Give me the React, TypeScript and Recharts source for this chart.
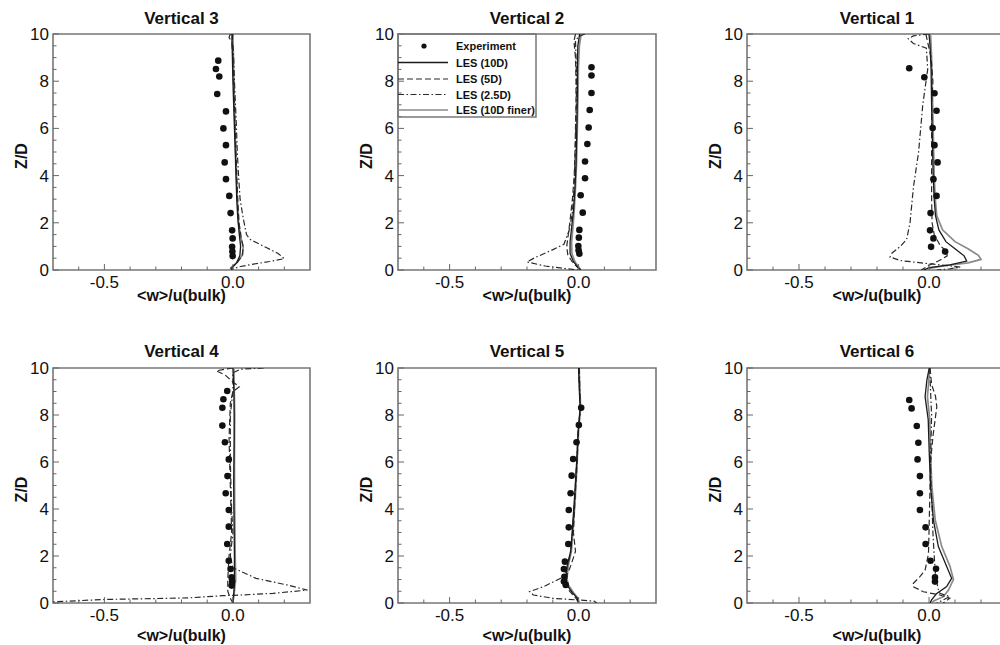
import React from 'react';
import { ComposedChart, Line, Scatter, XAxis, YAxis, ReferenceArea } from 'recharts';

type Pair = [number, number];

// ---------- tick values / labels ----------
const X_TICKS = [-0.6, -0.5, -0.4, -0.3, -0.2, -0.1, 0, 0.1, 0.2];
const X_MAJOR = [-0.5, 0];
const X_MAJOR_LABELS = ['-0.5', '0.0'];
const Y_TICKS = [0, 0.5, 1, 1.5, 2, 2.5, 3, 3.5, 4, 4.5, 5, 5.5, 6, 6.5, 7, 7.5, 8, 8.5, 9, 9.5, 10];
const Y_MAJOR = [0, 2, 4, 6, 8, 10];
const Y_MAJOR_LABELS = ['0', '2', '4', '6', '8', '10'];
const SERIES_NAMES = ['Experiment', 'LES (10D)', 'LES (5D)', 'LES (2.5D)', 'LES (10D finer)'];

// ---------- Vertical 3 ----------
const v3Exp: Pair[] = [[-0.057, 8.87], [-0.066, 8.52], [-0.053, 8.2], [-0.061, 7.46], [-0.027, 6.72], [-0.037, 6.0], [-0.027, 5.29], [-0.032, 4.56], [-0.027, 3.85], [-0.014, 3.14], [-0.009, 2.41], [-0.003, 1.68], [-0.001, 1.34], [-0.003, 0.98], [-0.002, 0.78], [-0.001, 0.59]];
const v3Les10: Pair[] = [[-0.004, 10], [-0.002, 9], [0.0, 8], [0.003, 7], [0.006, 6], [0.009, 5], [0.012, 4], [0.015, 3], [0.019, 2.2], [0.025, 1.5], [0.03, 1.0], [0.027, 0.6], [0.014, 0.3], [0.0, 0.13], [-0.005, 0]];
const v3Les5: Pair[] = [[0.0, 10], [-0.004, 9.6], [0.0, 9], [0.003, 8], [0.006, 7], [0.009, 6], [0.012, 5], [0.015, 4], [0.019, 3], [0.024, 2], [0.032, 1.4], [0.04, 0.95], [0.036, 0.6], [0.016, 0.3], [-0.005, 0.1], [-0.012, 0]];
const v3Les25: Pair[] = [[-0.01, 10], [-0.015, 9.85], [0.0, 9.6], [0.003, 9], [0.006, 8], [0.01, 7], [0.014, 6], [0.017, 5], [0.022, 4], [0.028, 3], [0.04, 2.2], [0.053, 1.5], [0.066, 1.3], [0.13, 0.95], [0.176, 0.7], [0.2, 0.48], [0.143, 0.36], [0.08, 0.25], [0.03, 0.15], [0.0, 0.05], [-0.005, 0]];
const v3Les10f: Pair[] = [[0.0, 10], [0.002, 9], [0.004, 8], [0.006, 7], [0.008, 6], [0.011, 5], [0.014, 4], [0.017, 3], [0.022, 2], [0.03, 1.4], [0.04, 1.0], [0.038, 0.65], [0.015, 0.3], [-0.008, 0.1], [-0.01, 0]];

// ---------- Vertical 2 ----------
const v2Exp: Pair[] = [[0.05, 8.59], [0.05, 8.24], [0.05, 7.5], [0.043, 6.78], [0.039, 6.04], [0.034, 5.34], [0.025, 4.6], [0.025, 3.89], [0.008, 3.17], [0.016, 2.43], [0.003, 1.7], [0.001, 1.37], [-0.001, 1.02], [0.0, 0.84], [0.003, 0.69]];
const v2Les10: Pair[] = [[0.004, 10], [-0.003, 9.5], [-0.005, 8.5], [-0.005, 7.5], [-0.006, 6.5], [-0.008, 5.5], [-0.01, 4.5], [-0.014, 3.5], [-0.02, 2.5], [-0.027, 1.8], [-0.033, 1.2], [-0.033, 0.7], [-0.02, 0.35], [-0.003, 0.12], [0.008, 0]];
const v2Les5: Pair[] = [[-0.012, 10], [-0.018, 9.7], [-0.012, 9], [-0.01, 8], [-0.01, 7], [-0.012, 6], [-0.014, 5], [-0.017, 4], [-0.024, 3], [-0.032, 2.2], [-0.04, 1.5], [-0.046, 1.0], [-0.042, 0.65], [-0.025, 0.35], [-0.005, 0.12], [0.005, 0]];
const v2Les25: Pair[] = [[0.025, 10], [0.0, 9.9], [-0.012, 9.7], [-0.01, 9], [-0.008, 8], [-0.009, 7], [-0.011, 6], [-0.013, 5], [-0.016, 4], [-0.02, 3], [-0.025, 2.36], [-0.037, 1.66], [-0.057, 1.09], [-0.11, 0.81], [-0.17, 0.52], [-0.2, 0.34], [-0.13, 0.17], [-0.057, 0.07], [0.0, 0]];
const v2Les10f: Pair[] = [[0.01, 10], [0.003, 9.5], [-0.001, 8.5], [-0.002, 7.5], [-0.004, 6.5], [-0.006, 5.5], [-0.008, 4.5], [-0.012, 3.5], [-0.017, 2.5], [-0.022, 1.8], [-0.027, 1.2], [-0.026, 0.7], [-0.014, 0.35], [0.0, 0.12], [0.01, 0]];

// ---------- Vertical 1 ----------
const v1Exp: Pair[] = [[-0.076, 8.55], [-0.018, 8.17], [0.021, 7.49], [0.029, 6.75], [0.014, 6.02], [0.021, 5.29], [0.033, 4.56], [0.017, 3.85], [0.029, 3.14], [0.006, 2.41], [0.004, 1.68], [0.017, 1.34], [0.008, 0.98], [0.062, 0.78]];
const v1Les10: Pair[] = [[0.0, 10], [0.004, 9.5], [0.008, 8.5], [0.01, 7], [0.012, 6], [0.014, 5], [0.016, 4], [0.02, 3], [0.025, 2.3], [0.038, 1.7], [0.065, 1.2], [0.1, 0.9], [0.135, 0.6], [0.145, 0.38], [0.08, 0.22], [0.0, 0.1], [-0.02, 0]];
const v1Les5: Pair[] = [[-0.012, 10], [-0.006, 9.7], [0.008, 9], [0.015, 8], [0.01, 7], [0.01, 6], [0.01, 5], [0.01, 4], [0.01, 3], [0.012, 2], [0.02, 1.5], [0.045, 1.0], [0.068, 0.8], [0.07, 0.6], [0.04, 0.4], [0.0, 0.2], [-0.03, 0]];
const v1Les25: Pair[] = [[0.0, 10], [-0.06, 9.92], [-0.08, 9.8], [-0.06, 9.6], [-0.01, 9.4], [-0.005, 8.5], [-0.024, 7], [-0.04, 5], [-0.06, 3.5], [-0.073, 2], [-0.086, 1.3], [-0.11, 1.0], [-0.144, 0.7], [-0.15, 0.55], [-0.11, 0.4], [-0.03, 0.3], [0.06, 0.2], [0.12, 0.12], [0.08, 0.05], [0.03, 0]];
const v1Les10f: Pair[] = [[0.006, 10], [0.01, 9], [0.012, 8], [0.014, 7], [0.016, 6], [0.018, 5], [0.02, 4], [0.024, 3], [0.03, 2.3], [0.052, 1.7], [0.1, 1.2], [0.15, 0.9], [0.19, 0.62], [0.2, 0.45], [0.15, 0.3], [0.06, 0.18], [0.005, 0.08], [0.0, 0]];

// ---------- Vertical 4 ----------
const v4Exp: Pair[] = [[-0.022, 9.02], [-0.037, 8.67], [-0.041, 8.31], [-0.041, 7.55], [-0.031, 6.84], [-0.016, 6.11], [-0.021, 5.4], [-0.028, 4.67], [-0.016, 3.96], [-0.016, 3.25], [-0.022, 2.51], [-0.016, 1.8], [-0.009, 1.45], [-0.005, 1.09], [-0.003, 0.91], [-0.005, 0.74]];
const v4Les10: Pair[] = [[0.0, 10], [0.004, 9], [0.005, 8], [0.005, 7], [0.004, 6], [0.003, 5], [0.004, 4], [0.005, 3], [0.006, 2], [0.006, 1], [0.004, 0.5], [0.0, 0]];
const v4Les5: Pair[] = [[0.0, 10], [-0.03, 9.95], [-0.065, 9.88], [-0.03, 9.7], [0.0, 9.4], [0.025, 9.2], [0.0, 9.0], [-0.01, 8.5], [-0.015, 7], [-0.01, 5], [-0.005, 3], [-0.015, 2], [-0.02, 1], [-0.02, 0.5], [-0.01, 0.2], [0.0, 0]];
const v4Les25: Pair[] = [[0.12, 10], [0.03, 9.95], [0.0, 9.8], [0.0, 9], [-0.01, 8], [-0.01, 6], [-0.005, 4], [0.0, 3], [-0.01, 2], [0.0, 1.5], [0.09, 1.05], [0.21, 0.77], [0.29, 0.55], [0.156, 0.41], [0.03, 0.34], [-0.04, 0.31], [-0.17, 0.22], [-0.3, 0.19], [-0.5, 0.15], [-0.7, 0.05]];
const v4Les10f: Pair[] = [[0.004, 10], [0.007, 8], [0.006, 6], [0.007, 4], [0.009, 2], [0.011, 1], [0.006, 0.5], [0.0, 0]];

// ---------- Vertical 5 ----------
const v5Exp: Pair[] = [[0.01, 8.31], [0.001, 7.57], [-0.008, 6.84], [-0.021, 6.13], [-0.027, 5.42], [-0.031, 4.67], [-0.038, 3.96], [-0.038, 3.22], [-0.04, 2.51], [-0.053, 1.76], [-0.057, 1.45], [-0.055, 1.12], [-0.057, 0.91], [-0.05, 0.77]];
const v5Les10: Pair[] = [[0.0, 10], [0.003, 9], [0.006, 8.3], [-0.002, 7.3], [-0.008, 5.9], [-0.016, 4.45], [-0.025, 3.0], [-0.031, 2.2], [-0.044, 1.6], [-0.05, 1.05], [-0.045, 0.77], [-0.025, 0.45], [-0.005, 0.2], [0.0, 0]];
const v5Les5: Pair[] = [[0.0, 10], [0.004, 9], [0.006, 8.3], [-0.001, 7.3], [-0.006, 5.9], [-0.014, 4.45], [-0.02, 3.0], [-0.012, 2.2], [-0.03, 1.6], [-0.048, 1.1], [-0.05, 0.8], [-0.035, 0.5], [-0.01, 0.2], [0.0, 0]];
const v5Les25: Pair[] = [[0.003, 10], [0.005, 9], [0.007, 8.3], [-0.001, 7.3], [-0.008, 5.9], [-0.015, 4.45], [-0.024, 3.0], [-0.03, 2.2], [-0.042, 1.6], [-0.05, 1.33], [-0.07, 1.05], [-0.135, 0.7], [-0.19, 0.48], [-0.175, 0.34], [-0.1, 0.2], [-0.005, 0.13], [0.06, 0.08], [0.07, 0.0]];
const v5Les10f: Pair[] = [[0.002, 10], [0.005, 9], [0.008, 8.3], [0.0, 7.3], [-0.006, 5.9], [-0.013, 4.45], [-0.022, 3.0], [-0.028, 2.2], [-0.04, 1.6], [-0.045, 1.05], [-0.04, 0.77], [-0.02, 0.45], [-0.002, 0.2], [0.002, 0]];

// ---------- Vertical 6 ----------
const v6Exp: Pair[] = [[-0.076, 8.64], [-0.067, 8.28], [-0.047, 7.53], [-0.041, 6.82], [-0.044, 6.11], [-0.035, 5.4], [-0.035, 4.67], [-0.035, 3.96], [-0.013, 3.22], [-0.013, 2.51], [0.006, 1.8], [0.027, 1.46], [0.023, 1.09], [0.023, 0.91]];
const v6Les10: Pair[] = [[0.001, 10], [-0.008, 9.5], [-0.015, 8.78], [-0.003, 7.8], [0.001, 6.37], [0.006, 4.95], [0.017, 3.53], [0.036, 2.4], [0.068, 1.55], [0.087, 1.05], [0.068, 0.7], [0.03, 0.41], [0.01, 0.13], [0.004, 0]];
const v6Les5: Pair[] = [[0.004, 10], [0.01, 9.3], [0.025, 8.8], [0.03, 8.35], [0.015, 7.08], [0.006, 6], [0.004, 5], [0.002, 4], [0.0, 3], [-0.002, 2.1], [-0.015, 1.4], [-0.035, 1.12], [-0.06, 0.84], [-0.062, 0.7], [-0.022, 0.48], [0.042, 0.34], [0.08, 0.2], [0.055, 0.0]];
const v6Les25: Pair[] = [[0.003, 10], [0.006, 9], [0.01, 8], [0.008, 7], [0.006, 6], [0.008, 5], [0.012, 4], [0.015, 3], [0.02, 2], [0.025, 1.2], [0.035, 0.6], [0.042, 0.41], [0.08, 0.27], [0.055, 0.13], [0.03, 0]];
const v6Les10f: Pair[] = [[0.003, 10], [-0.002, 9.3], [-0.006, 8.78], [0.003, 7.8], [0.006, 6.37], [0.011, 4.95], [0.024, 3.53], [0.049, 2.4], [0.081, 1.55], [0.094, 1.0], [0.075, 0.55], [0.055, 0.27], [0.02, 0.1], [0.01, 0]];

// ---------- layout ----------
const COL_LEFT = [53, 398, 747];
const COL_W = [257, 258, 260];
const ROW_TOP = [34, 368];
const ROW_H = [236, 235];
const XLABEL_BASE = [301, 641];
const TITLE_BASE = [24, 357];
const ML = 55, MT = 16, MR = 6, MB = 40;

const FONT = "'Liberation Sans', Arial, Helvetica, sans-serif";

const PANELS = [
  { title: 'Vertical 3', col: 0, row: 0, exp: v3Exp, les10: v3Les10, les5: v3Les5, les25: v3Les25, les10f: v3Les10f },
  { title: 'Vertical 2', col: 1, row: 0, exp: v2Exp, les10: v2Les10, les5: v2Les5, les25: v2Les25, les10f: v2Les10f },
  { title: 'Vertical 1', col: 2, row: 0, exp: v1Exp, les10: v1Les10, les5: v1Les5, les25: v1Les25, les10f: v1Les10f },
  { title: 'Vertical 4', col: 0, row: 1, exp: v4Exp, les10: v4Les10, les5: v4Les5, les25: v4Les25, les10f: v4Les10f },
  { title: 'Vertical 5', col: 1, row: 1, exp: v5Exp, les10: v5Les10, les5: v5Les5, les25: v5Les25, les10f: v5Les10f },
  { title: 'Vertical 6', col: 2, row: 1, exp: v6Exp, les10: v6Les10, les5: v6Les5, les25: v6Les25, les10f: v6Les10f },
];

const toPts = (a: Pair[]) => a.map(([x, z]) => ({ x, z }));

const STY = {
  les10: { stroke: '#1a1a1a', width: 1.3, dash: undefined as string | undefined },
  les5: { stroke: '#2a2a2a', width: 1.2, dash: '6 3' },
  les25: { stroke: '#2a2a2a', width: 1.2, dash: '6 2.5 1.5 2.5' },
  les10f: { stroke: '#8a8a8a', width: 1.7, dash: undefined as string | undefined },
};

const renderXTick = (props: any) => {
  const { x, y, payload } = props;
  const v = payload.value as number;
  const mi = X_MAJOR.findIndex((m) => Math.abs(m - v) < 1e-6);
  const major = mi >= 0;
  return (
    <g>
      <line x1={x} x2={x} y1={y} y2={y - (major ? 6 : 3.5)} stroke="#666" strokeWidth={1} />
      {major && (
        <text x={x} y={y + 18} textAnchor="middle" fontSize={17} fontFamily={FONT} fill="#111">
          {X_MAJOR_LABELS[mi]}
        </text>
      )}
    </g>
  );
};

const renderYTick = (props: any) => {
  const { x, y, payload } = props;
  const v = payload.value as number;
  const mi = Y_MAJOR.findIndex((m) => Math.abs(m - v) < 1e-6);
  const major = mi >= 0;
  return (
    <g>
      <line x1={x} x2={x + (major ? 6 : 3.5)} y1={y} y2={y} stroke="#666" strokeWidth={1} />
      {major && (
        <text x={x - 4} y={y + 6} textAnchor="end" fontSize={17} fontFamily={FONT} fill="#111">
          {Y_MAJOR_LABELS[mi]}
        </text>
      )}
    </g>
  );
};

const Dot = (props: any) => {
  const { cx, cy } = props;
  if (cx == null || cy == null) return null;
  return <circle cx={cx} cy={cy} r={3.3} fill="#111" />;
};

function Panel({ p }: { p: (typeof PANELS)[number] }) {
  const left = COL_LEFT[p.col];
  const top = ROW_TOP[p.row];
  const w = COL_W[p.col];
  const h = ROW_H[p.row];
  const line = (key: 'les10' | 'les5' | 'les25' | 'les10f') => (
    <Line
      key={key}
      data={toPts(p[key])}
      dataKey="z"
      type="linear"
      stroke={STY[key].stroke}
      strokeWidth={STY[key].width}
      strokeDasharray={STY[key].dash}
      dot={false}
      activeDot={false}
      isAnimationActive={false}
    />
  );
  return (
    <div style={{ position: 'absolute', left: left - ML, top: top - MT }}>
      <ComposedChart width={ML + w + MR} height={MT + h + MB} margin={{ top: MT, left: ML - 1, right: MR, bottom: MB - 1 }}>
        <XAxis
          dataKey="x"
          type="number"
          domain={[-0.7, 0.3]}
          allowDataOverflow
          ticks={X_TICKS}
          interval={0}
          tick={renderXTick}
          tickLine={false}
          tickSize={0}
          tickMargin={0}
          axisLine={false}
          height={1}
        />
        <YAxis
          type="number"
          domain={[0, 10]}
          allowDataOverflow
          ticks={Y_TICKS}
          interval={0}
          tick={renderYTick}
          tickLine={false}
          tickSize={0}
          tickMargin={0}
          axisLine={false}
          width={1}
        />
        <ReferenceArea x1={-0.7} x2={0.3} y1={0} y2={10} fill="none" stroke="#777" strokeWidth={1.6} ifOverflow="visible" />
        {line('les10f')}
        {line('les25')}
        {line('les5')}
        {line('les10')}
        <Scatter data={toPts(p.exp)} dataKey="z" shape={Dot} isAnimationActive={false} />
      </ComposedChart>
    </div>
  );
}

function Overlay() {
  const lx0 = 398, lx1 = 448;
  const rows = [46, 62.5, 79, 94.5, 110];
  return (
    <svg width={1000} height={645} style={{ position: 'absolute', left: 0, top: 0, pointerEvents: 'none' }}>
      {PANELS.map((p) => {
        const left = COL_LEFT[p.col];
        const w = COL_W[p.col];
        const top = ROW_TOP[p.row];
        const h = ROW_H[p.row];
        const cx = left + w / 2;
        const cy = top + h / 2 + 4;
        const zx = left - 26;
        return (
          <g key={p.title}>
            <text x={cx} y={TITLE_BASE[p.row]} textAnchor="middle" fontSize={17} fontWeight="bold" fontFamily={FONT} fill="#111">
              {p.title}
            </text>
            <text x={cx} y={XLABEL_BASE[p.row]} textAnchor="middle" fontSize={16} fontWeight="bold" fontFamily={FONT} fill="#111">
              {'<w>/u(bulk)'}
            </text>
            <text x={zx} y={cy} transform={`rotate(-90 ${zx} ${cy})`} textAnchor="middle" fontSize={16} fontWeight="bold" fontFamily={FONT} fill="#111">
              Z/D
            </text>
          </g>
        );
      })}
      <g>
        <rect x={398} y={34} width={138} height={83} fill="none" stroke="#777" strokeWidth={1.5} />
        <circle cx={(lx0 + lx1) / 2 + 1} cy={rows[0]} r={2.6} fill="#111" />
        <line x1={lx0} x2={lx1} y1={rows[1]} y2={rows[1]} stroke={STY.les10.stroke} strokeWidth={STY.les10.width} />
        <line x1={lx0} x2={lx1} y1={rows[2]} y2={rows[2]} stroke={STY.les5.stroke} strokeWidth={STY.les5.width} strokeDasharray={STY.les5.dash} />
        <line x1={lx0} x2={lx1} y1={rows[3]} y2={rows[3]} stroke={STY.les25.stroke} strokeWidth={STY.les25.width} strokeDasharray={STY.les25.dash} />
        <line x1={lx0} x2={lx1} y1={rows[4]} y2={rows[4]} stroke={STY.les10f.stroke} strokeWidth={STY.les10f.width} />
        {SERIES_NAMES.map((n, i) => (
          <text key={n} x={456} y={rows[i] + 4} fontSize={11} fontWeight="bold" fontFamily={FONT} fill="#111">
            {n}
          </text>
        ))}
      </g>
    </svg>
  );
}

export default function App() {
  return (
    <div style={{ position: 'absolute', left: 0, top: 0, width: 1000, height: 645, overflow: 'hidden', background: '#fff' }}>
      {PANELS.map((p) => (
        <Panel key={p.title} p={p} />
      ))}
      <Overlay />
    </div>
  );
}
